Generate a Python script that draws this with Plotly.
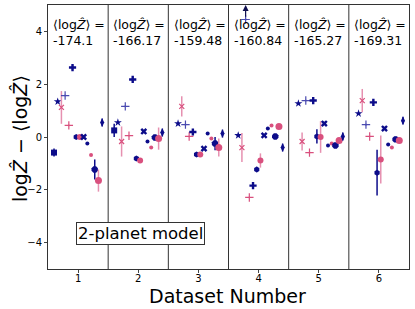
import plotly.graph_objects as go

datasets = [1, 2, 3, 4, 5, 6]
mean_logz = ["-174.1", "-166.17", "-159.48", "-160.84", "-165.27", "-169.31"]

NAVY = "#0c0c8a"
NAVY_L = "#4a4ab0"
PINK = "#d9507e"
PINK_L = "#e690b0"

# each method: values per dataset, errors per dataset
m_square = [-0.59, 0.25, None, None, None, None]
e_square = [0.15, 0.25, 0, 0, 0, 0]
m_star = [1.34, 0.55, 0.51, 0.06, 1.27, 0.89]
e_star = [0.03] * 6
m_xpink = [1.12, -0.17, 1.16, -0.40, -0.17, 1.38]
e_xpink = [0.62, 0.57, 0.38, 0.55, 0.34, 0.44]
m_plusnavy = [1.57, 1.16, 0.47, 4.45, 1.38, 0.47]
e_plusnavy = [0.03] * 6
m_pluspink = [0.44, 0.05, 0.02, -2.29, -0.59, 0.02]
e_pluspink = [0.03] * 6
m_fplus = [2.63, 2.18, 0.19, -1.84, 1.38, 1.31]
e_fplus = [0.08] * 6
m_hex = [0.0, -0.81, -0.66, -1.23, 0.02, -1.35]
e_hex = [0.06, 0.06, 0.06, 0.1, 0.27, 0.87]
m_circpink = [0.0, -0.89, -0.66, -0.89, 0.0, -0.85]
e_circpink = [0.06, 0.06, 0.06, 0.27, 0.6, 0.91]
m_xnavy = [0.0, 0.21, -0.44, 0.06, 0.51, 0.32]
e_xnavy = [0.06] * 6
m_dotnavy = [-0.25, -0.17, 0.13, 0.32, -0.32, -0.28]
e_dotnavy = [0.02] * 6
m_dotpink = [-0.68, -0.40, -0.06, 0.44, -0.25, -0.40]
e_dotpink = [0.02] * 6
m_oct = [-1.23, -0.02, -0.25, 0.02, -0.32, -0.09]
e_oct = [0.38, 0.1, 0.25, 0.05, 0.05, 0.1]
m_bigpink = [-1.65, -0.06, -0.40, 0.40, -0.13, -0.13]
e_bigpink = [0.42, 0.42, 0.34, 0.05, 0.05, 0.05]
m_diam = [0.55, 0.17, 0.13, -0.40, 0.02, 0.62]
e_diam = [0.15] * 6

methods = [
    (m_square, e_square, "square", 6, NAVY, NAVY),
    (m_star, e_star, "star", 6, NAVY, NAVY),
    (m_xpink, e_xpink, "x-thin-open", 5, PINK, PINK_L),
    (m_plusnavy, e_plusnavy, "cross-thin-open", 6, NAVY_L, NAVY_L),
    (m_pluspink, e_pluspink, "cross-thin-open", 6, PINK, PINK_L),
    (m_fplus, e_fplus, "cross", 6, NAVY, NAVY),
    (m_hex, e_hex, "hexagon", 6, NAVY, NAVY),
    (m_circpink, e_circpink, "circle", 6, PINK, PINK_L),
    (m_xnavy, e_xnavy, "x", 6, NAVY, NAVY),
    (m_dotnavy, e_dotnavy, "circle", 4, NAVY, NAVY),
    (m_dotpink, e_dotpink, "circle", 4, PINK, PINK_L),
    (m_oct, e_oct, "octagon", 7, NAVY, NAVY),
    (m_bigpink, e_bigpink, "circle", 7, PINK, PINK_L),
    (m_diam, e_diam, "diamond-tall", 6, NAVY, NAVY),
]

n = len(methods)
offsets = [-0.4 + 0.8 * i / (n - 1) for i in range(n)]

fig = go.Figure()
for (vals, errs, sym, size, col, ecol), off in zip(methods, offsets):
    xs = [d + off for d in datasets]
    line = dict(width=1.2, color=col) if "open" in sym else dict(width=0)
    fig.add_trace(go.Scatter(
        x=xs, y=vals, mode="markers",
        marker=dict(symbol=sym, size=size, color=col, line=line),
        error_y=dict(type="data", array=errs, visible=True, thickness=1.5,
                     width=0, color=ecol),
        showlegend=False, cliponaxis=True,
    ))

# arrow for off-scale point (dataset 4)
fig.add_annotation(x=4 + offsets[3], y=5.0, ax=4 + offsets[3], ay=4.5,
                   xref="x", yref="y", axref="x", ayref="y",
                   showarrow=True, arrowhead=2, arrowsize=1, arrowwidth=1.2,
                   arrowcolor="#101050", text="")

for d in datasets[:-1]:
    fig.add_shape(type="line", x0=d + 0.5, x1=d + 0.5, y0=-5, y1=5,
                  xref="x", yref="y", line=dict(color="#333333", width=1))

for d, mz in zip(datasets, mean_logz):
    fig.add_annotation(x=d + 0.02, y=3.95, xref="x", yref="y",
                       text="⟨log<i>Ẑ</i>⟩ =<br>" + mz, showarrow=False,
                       align="left", xanchor="center", yanchor="middle",
                       font=dict(family="DejaVu Sans", size=12.5, color="black"))

fig.add_annotation(x=2.03, y=-3.67, xref="x", yref="y", text="2-planet model",
                   showarrow=False, bordercolor="#333333", borderwidth=1,
                   borderpad=1, bgcolor="white",
                   font=dict(family="DejaVu Sans", size=16.5, color="black"))

# axis titles
fig.add_annotation(x=0.4986, y=-0.102, xref="paper", yref="paper",
                   text="Dataset Number", showarrow=False,
                   xanchor="center", yanchor="middle",
                   font=dict(size=19, family="DejaVu Sans", color="black"))
fig.add_annotation(x=-0.0776, y=0.496, xref="paper", yref="paper",
                   text="log<i>Ẑ</i> − ⟨log<i>Ẑ</i>⟩", showarrow=False,
                   textangle=-90, xanchor="center", yanchor="middle",
                   font=dict(size=19, family="DejaVu Sans", color="black"))

fig.update_xaxes(range=[0.5, 6.5], tickvals=datasets, ticks="outside",
                 ticklen=3, showgrid=False, zeroline=False, showline=True,
                 linecolor="#333333", mirror=True, automargin=False,
                 ticklabelstandoff=-3,
                 tickfont=dict(size=10, family="DejaVu Sans", color="black"))
fig.update_yaxes(range=[-5, 5], tickvals=[-4, -2, 0, 2, 4],
                 ticktext=["−4", "−2", "0", "2", "4"], ticks="outside",
                 ticklen=3, showgrid=False, zeroline=False, showline=True,
                 linecolor="#333333", mirror=True, automargin=False,
                 tickfont=dict(size=10, family="DejaVu Sans", color="black"))

fig.update_layout(width=415, height=309, plot_bgcolor="white",
                  paper_bgcolor="white",
                  margin=dict(l=48, r=6, t=5, b=40, autoexpand=False))

fig.write_html("out.html", config={"displayModeBar": False},
               post_script="document.body.style.margin='0';document.body.style.padding='0';")
